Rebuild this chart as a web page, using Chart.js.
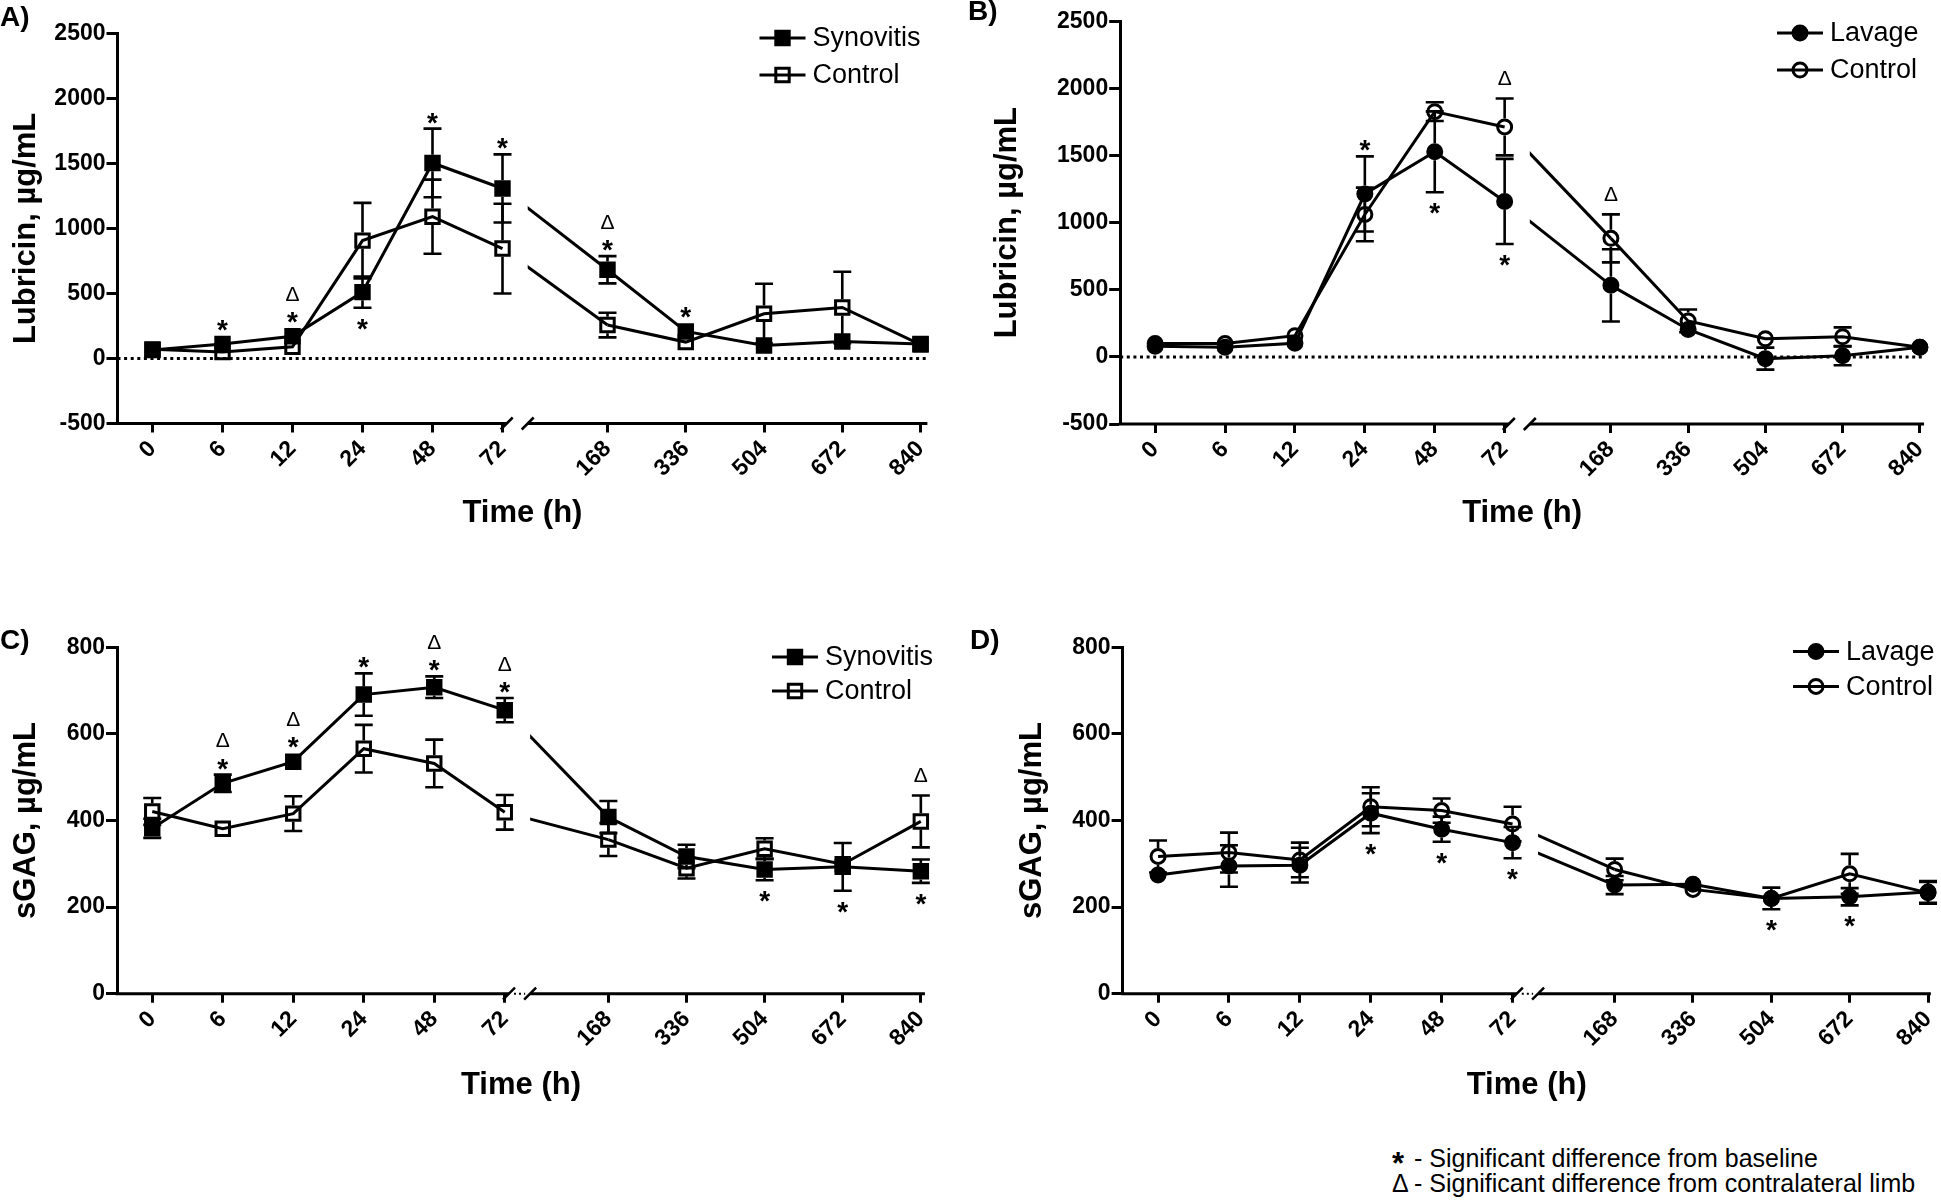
<!DOCTYPE html>
<html>
<head>
<meta charset="utf-8">
<script src="https://cdn.jsdelivr.net/npm/chart.js@4.4.1/dist/chart.umd.min.js"></script>
<style>
  body { margin: 0; width: 1941px; height: 1202px; overflow: hidden; background: #fff; position: relative;
         font-family: "Liberation Sans", Arial, sans-serif; }
  canvas { position: absolute; }
  .panel { position: absolute; font-weight: bold; font-size: 28px; line-height: 30px; }
  .note { position: absolute; font-size: 25px; line-height: 26px; white-space: nowrap; }
  .note b { display: inline-block; width: 22px; }
</style>
</head>
<body>
<canvas id="chartA" width="970" height="532" style="left:0;top:0"></canvas>
<canvas id="chartB" width="1000" height="532" style="left:970px;top:0"></canvas>
<canvas id="chartC" width="970" height="504" style="left:0;top:600px"></canvas>
<canvas id="chartD" width="1010" height="504" style="left:970px;top:600px"></canvas>
<div class="panel" style="left:0;top:2px">A)</div>
<div class="panel" style="left:968px;top:-4px">B)</div>
<div class="panel" style="left:0;top:625px">C)</div>
<div class="panel" style="left:970px;top:625px">D)</div>
<div class="note" style="left:1392px;top:1144px"><b style="font-size:31px;position:relative;top:7px">*</b>- Significant difference from baseline</div>
<div class="note" style="left:1392px;top:1170px"><b style="font-weight:normal">&Delta;</b>- Significant difference from contralateral limb</div>
<script>
const timeLabels = ['0', '6', '12', '24', '48', '72', '168', '336', '504', '672', '840'];

// A) lubricin, synovitis limb vs control
const synLubricin = [65, 111, 171, 510, 1503, 1307, 682, 208, 99, 131, 112];
const synLubricinSem = [15, 20, 25, 120, 264, 262, 105, 40, 20, 25, 15];
const synCtrlLubricin = [70, 50, 90, 906, 1090, 845, 257, 126, 344, 392, 107];
const synCtrlLubricinSem = [15, 20, 20, 290, 285, 345, 95, 30, 230, 275, 15];

// B) lubricin, lavage limb vs control
const lavLubricin = [80, 72, 102, 1214, 1528, 1158, 533, 204, -13, 8, 72];
const lavLubricinSem = [20, 20, 20, 280, 301, 317, 269, 45, 82, 70, 15];
const lavCtrlLubricin = [100, 100, 158, 1061, 1827, 1713, 883, 268, 135, 150, 72];
const lavCtrlLubricinSem = [20, 20, 60, 200, 70, 212, 179, 85, 20, 70, 15];

// C) sGAG, synovitis limb vs control
const synGag = [382, 486, 536, 691, 708, 655, 408, 317, 287, 293, 283];
const synGagSem = [22, 20, 18, 49, 25, 28, 37, 27, 25, 55, 27];
const synCtrlGag = [421, 381, 416, 566, 532, 419, 356, 290, 335, 299, 398];
const synCtrlGagSem = [31, 8, 40, 55, 55, 40, 38, 24, 24, 15, 60];

// D) sGAG, lavage limb vs control
const lavGag = [274, 295, 297, 417, 380, 349, 251, 253, 220, 224, 235];
const lavGagSem = [10, 48, 40, 46, 29, 36, 21, 10, 25, 20, 25];
const lavCtrlGag = [317, 326, 309, 432, 423, 392, 287, 241, 220, 277, 233];
const lavCtrlGagSem = [37, 46, 40, 45, 28, 40, 25, 8, 15, 46, 25];

// significance marks: [time index, symbols (outermost first), side]
const synLubricinSig = [[1, '*', 'up'], [2, 'Δ*', 'up'], [3, '*', 'down'], [4, '*', 'up'], [5, '*', 'up'], [6, 'Δ*', 'up'], [7, '*', 'up']];
const lavLubricinSig = [[3, '*', 'up'], [4, '*', 'down'], [5, '*', 'down']];
const lavCtrlLubricinSig = [[5, 'Δ', 'up'], [6, 'Δ', 'up']];
const synGagSig = [[1, 'Δ*', 'up'], [2, 'Δ*', 'up'], [3, '*', 'up'], [4, 'Δ*', 'up'], [5, 'Δ*', 'up'], [8, '*', 'down'], [9, '*', 'down'], [10, '*', 'down']];
const synCtrlGagSig = [[10, 'Δ', 'up']];
const lavGagSig = [[3, '*', 'down'], [4, '*', 'down'], [5, '*', 'down'], [8, '*', 'down'], [9, '*', 'down']];

// broken time axis: slots 0..5 for 0-72 h, then a wider second segment
const BREAK_L = 5.06, BREAK_R = 5.36;
const slotFn = seg2 => i => (i <= 5 ? i : seg2[0] + (i - 6) * seg2[1]);

const FONT = '"Liberation Sans", Arial, sans-serif';
Chart.defaults.font.family = FONT;
Chart.defaults.color = '#000';

const half = shape => (shape === 'rect' ? 8.2 : 8.5);

function drawMarker(ctx, s, x, y) {
  ctx.save();
  ctx.lineWidth = 3;
  ctx.strokeStyle = '#000';
  ctx.fillStyle = '#000';
  ctx.beginPath();
  if (s.shape === 'rect') ctx.rect(x - 6.7, y - 6.7, 13.4, 13.4);
  else ctx.arc(x, y, 7, 0, Math.PI * 2);
  if (s.filled) ctx.fill();
  ctx.stroke();
  ctx.restore();
}

function drawGlyph(ctx, c, x, cy) {
  ctx.textAlign = 'center';
  ctx.textBaseline = 'alphabetic';
  if (c === '*') {
    ctx.font = 'bold 28px ' + FONT;
    ctx.fillText('*', x, cy + 16);
  } else {
    ctx.font = '21px ' + FONT;
    ctx.fillText('Δ', x, cy + 7.5);
  }
}

const decor = {
  id: 'decor',
  beforeDatasetsDraw(chart, args, opts) {
    const { ctx, chartArea, scales: { x, y } } = chart;
    const slot = opts.slot;
    ctx.save();
    ctx.strokeStyle = '#000';
    if (opts.zeroLine) {
      const y0 = y.getPixelForValue(0);
      ctx.lineWidth = 3;
      ctx.setLineDash([3, 3.6]);
      ctx.beginPath();
      ctx.moveTo(chartArea.left, y0);
      ctx.lineTo(chartArea.right, y0);
      ctx.stroke();
      ctx.setLineDash([]);
    }
    // error bars (SEM), kept outside the marker
    ctx.lineWidth = 2.6;
    chart.data.datasets.forEach(ds => {
      const s = ds.series;
      if (!s) return;
      const h = half(s.shape);
      s.values.forEach((v, i) => {
        const px = x.getPixelForValue(slot(i));
        const py = y.getPixelForValue(v);
        const top = y.getPixelForValue(v + s.sem[i]);
        const bot = y.getPixelForValue(v - s.sem[i]);
        if (py - top <= h) return;
        ctx.beginPath();
        ctx.moveTo(px, py - h); ctx.lineTo(px, top);
        ctx.moveTo(px, py + h); ctx.lineTo(px, bot);
        ctx.moveTo(px - 9, top); ctx.lineTo(px + 9, top);
        ctx.moveTo(px - 9, bot); ctx.lineTo(px + 9, bot);
        ctx.stroke();
      });
    });
    ctx.restore();
  },
  beforeDatasetDraw(chart, args) {
    const ds = chart.data.datasets[args.index];
    if (!ds.bridge) return;
    const { ctx, chartArea, scales: { x } } = chart;
    const xr = x.getPixelForValue(BREAK_R);
    ctx.save();
    ctx.beginPath();
    ctx.rect(xr, chartArea.top, chartArea.right - xr, chartArea.bottom - chartArea.top);
    ctx.clip();
  },
  afterDatasetDraw(chart, args) {
    if (chart.data.datasets[args.index].bridge) chart.ctx.restore();
  },
  afterDatasetsDraw(chart, args, opts) {
    const { ctx, scales: { x, y } } = chart;
    const slot = opts.slot;
    ctx.save();
    ctx.fillStyle = '#000';
    chart.data.datasets.forEach(ds => {
      const s = ds.series;
      if (!s) return;
      const h = half(s.shape);
      s.sig.forEach(([i, text, side]) => {
        const px = x.getPixelForValue(slot(i));
        const py = y.getPixelForValue(s.values[i]);
        const semPx = Math.max(py - y.getPixelForValue(s.values[i] + s.sem[i]), h);
        if (side === 'up') {
          const chars = [...text].reverse();
          let cy = py - semPx;
          chars.forEach((c, k) => {
            cy = k === 0 ? cy - (c === '*' ? 13 : 21) : cy - 22;
            drawGlyph(ctx, c, px, cy);
          });
        } else {
          drawGlyph(ctx, '*', px, py + semPx + 14);
        }
      });
    });
    ctx.restore();
  },
  afterDraw(chart, args, opts) {
    const { ctx, chartArea, scales: { x } } = chart;
    const yb = chartArea.bottom;
    const xl = x.getPixelForValue(BREAK_L);
    const xr = x.getPixelForValue(BREAK_R);
    ctx.save();
    ctx.strokeStyle = '#000';
    ctx.lineWidth = 3;
    ctx.beginPath();
    ctx.moveTo(chartArea.left - 1.5, yb); ctx.lineTo(xl, yb);
    ctx.moveTo(xr, yb); ctx.lineTo(chartArea.right, yb);
    ctx.stroke();
    ctx.lineWidth = 2.5;
    ctx.beginPath();
    [xl, xr].forEach(bx => { ctx.moveTo(bx - 6, yb + 6); ctx.lineTo(bx + 6, yb - 6); });
    ctx.stroke();
    if (opts.dottedBreak) {
      ctx.lineWidth = 2;
      ctx.setLineDash([2, 3]);
      ctx.beginPath();
      ctx.moveTo(xl + 5, yb); ctx.lineTo(xr - 5, yb);
      ctx.stroke();
      ctx.setLineDash([]);
    }
    // legend
    const lg = opts.legend;
    opts.series.forEach((s, k) => {
      const ly = lg.y + k * lg.dy;
      ctx.lineWidth = 3;
      ctx.beginPath();
      ctx.moveTo(lg.x - 23, ly); ctx.lineTo(lg.x + 23, ly);
      ctx.stroke();
      drawMarker(ctx, s, lg.x, ly);
      ctx.fillStyle = '#000';
      ctx.font = '27px ' + FONT;
      ctx.textAlign = 'left';
      ctx.textBaseline = 'middle';
      ctx.fillText(s.label, lg.x + 30, ly + 1);
    });
    ctx.restore();
  }
};

function datasetsFor(s, slot) {
  const pts = s.values.map((v, i) => ({ x: slot(i), y: v }));
  return [
    {
      label: s.label, data: pts, series: s, clip: false,
      borderColor: '#000', borderWidth: 3,
      pointStyle: s.shape, pointRadius: s.shape === 'rect' ? 9.5 : 7, pointBorderWidth: 3,
      pointBorderColor: '#000', pointBackgroundColor: s.filled ? '#000' : 'rgba(0,0,0,0)',
      segment: { borderColor: c => (c.p0DataIndex === 5 ? 'rgba(0,0,0,0)' : undefined) }
    },
    { label: '', data: [pts[5], pts[6]], bridge: true, borderColor: '#000', borderWidth: 3, pointRadius: 0, pointHitRadius: 0 }
  ];
}

function makeChart(id, p) {
  const canvas = document.getElementById(id);
  const W = canvas.width, H = canvas.height;
  const a = p.area;
  const right = a.left + (p.xMax + 0.5) * a.unit;
  const slot = slotFn(p.seg2);
  return new Chart(canvas, {
    type: 'line',
    data: { datasets: p.series.flatMap(s => datasetsFor(s, slot)) },
    plugins: [decor],
    options: {
      responsive: false, animation: false, devicePixelRatio: 1,
      layout: { padding: { left: 0, top: a.top, right: W - right, bottom: 0 } },
      plugins: {
        legend: { display: false }, tooltip: { enabled: false },
        decor: { zeroLine: p.zeroLine, dottedBreak: p.dottedBreak, legend: p.legend, series: p.series, slot: slot }
      },
      scales: {
        x: {
          type: 'linear', min: -0.5, max: p.xMax,
          afterBuildTicks: sc => { sc.ticks = timeLabels.map((t, i) => ({ value: slot(i) })); },
          afterFit: sc => { sc.height = H - a.bottom; },
          ticks: {
            callback: (v, i) => timeLabels[i], autoSkip: false, minRotation: 45, maxRotation: 45,
            padding: 3, color: '#000', font: { size: 23, weight: 'bold' }
          },
          grid: { drawOnChartArea: false, drawTicks: true, tickLength: 9, tickWidth: 3, tickColor: '#000', color: '#000' },
          border: { display: false },
          title: { display: true, text: 'Time (h)', color: '#000', padding: { top: 0, bottom: 0 },
                   font: { size: 31, weight: 'bold', lineHeight: 1.2 } }
        },
        y: {
          min: p.yMin, max: p.yMax,
          afterFit: sc => { sc.width = a.left; },
          ticks: { stepSize: p.yStep, padding: 1, color: '#000', font: { size: 23, weight: 'bold' },
                   callback: v => String(v) },
          grid: { drawOnChartArea: false, drawTicks: true, tickLength: 11, tickWidth: 3, tickColor: '#000', color: '#000' },
          border: { display: true, width: 3, color: '#000' },
          title: { display: true, text: p.yTitle, color: '#000', padding: { top: p.titlePad, bottom: 0 },
                   font: { size: 31, weight: 'bold', lineHeight: 1.2 } }
        }
      }
    }
  });
}

makeChart('chartA', {
  area: { left: 117.5, top: 33.3, bottom: 423.5, unit: 70 }, xMax: 11.07, seg2: [6.5, 1.118], titlePad: 7.6,
  yMin: -500, yMax: 2500, yStep: 500, yTitle: 'Lubricin, µg/mL', zeroLine: true, dottedBreak: false,
  legend: { x: 782.5, y: 38, dy: 37 },
  series: [
    { label: 'Synovitis', values: synLubricin, sem: synLubricinSem, shape: 'rect', filled: true, sig: synLubricinSig },
    { label: 'Control', values: synCtrlLubricin, sem: synCtrlLubricinSem, shape: 'rect', filled: false, sig: [] }
  ]
});

makeChart('chartB', {
  area: { left: 150.2, top: 21.3, bottom: 424, unit: 69.9 }, xMax: 11.0, seg2: [6.52, 1.105], titlePad: 18.4,
  yMin: -500, yMax: 2500, yStep: 500, yTitle: 'Lubricin, µg/mL', zeroLine: true, dottedBreak: false,
  legend: { x: 830, y: 33, dy: 37 },
  series: [
    { label: 'Lavage', values: lavLubricin, sem: lavLubricinSem, shape: 'circle', filled: true, sig: lavLubricinSig },
    { label: 'Control', values: lavCtrlLubricin, sem: lavCtrlLubricinSem, shape: 'circle', filled: false, sig: lavCtrlLubricinSig }
  ]
});

makeChart('chartC', {
  area: { left: 117, top: 47.4, bottom: 393.7, unit: 70.5 }, xMax: 10.96, seg2: [6.47, 1.108], titlePad: 7.4,
  yMin: 0, yMax: 800, yStep: 200, yTitle: 'sGAG, µg/mL', zeroLine: false, dottedBreak: true,
  legend: { x: 795, y: 57, dy: 34 },
  series: [
    { label: 'Synovitis', values: synGag, sem: synGagSem, shape: 'rect', filled: true, sig: synGagSig },
    { label: 'Control', values: synCtrlGag, sem: synCtrlGagSem, shape: 'rect', filled: false, sig: synCtrlGagSig }
  ]
});

makeChart('chartD', {
  area: { left: 152.6, top: 47.4, bottom: 393.7, unit: 70.9 }, xMax: 10.9, seg2: [6.44, 1.105], titlePad: 44,
  yMin: 0, yMax: 800, yStep: 200, yTitle: 'sGAG, µg/mL', zeroLine: false, dottedBreak: true,
  legend: { x: 846, y: 51.4, dy: 35 },
  series: [
    { label: 'Lavage', values: lavGag, sem: lavGagSem, shape: 'circle', filled: true, sig: lavGagSig },
    { label: 'Control', values: lavCtrlGag, sem: lavCtrlGagSem, shape: 'circle', filled: false, sig: [] }
  ]
});
</script>
</body>
</html>
